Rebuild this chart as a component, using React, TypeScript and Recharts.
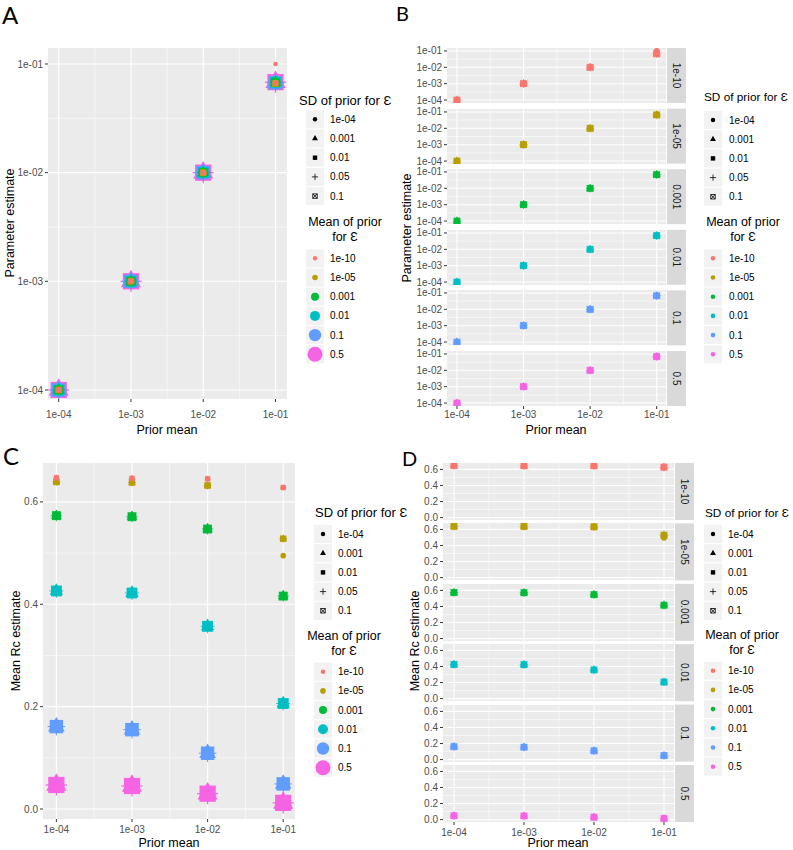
import React from 'react';
import { ScatterChart, Scatter, XAxis, YAxis, CartesianGrid, ReferenceLine } from 'recharts';

// ---- data ----
const priorMeans = [1e-4, 1e-3, 1e-2, 1e-1];
const sdLevels = ['1e-04', '0.001', '0.01', '0.05', '0.1'];
const sdShapes = ['circle', 'triangle', 'square', 'plus', 'boxcross'];
const meanLevels = ['1e-10', '1e-05', '0.001', '0.01', '0.1', '0.5'];
const meanColors = ['#F8766D', '#B79F00', '#00BA38', '#00BFC4', '#619CFF', '#F564E3'];
const meanSizes = [2.2, 2.8, 4.0, 5.0, 6.2, 7.5];

// parameter estimate, rows = mean of prior, cols = prior mean
const paramEstimates = [
  [1e-4, 1e-3, 1e-2, 0.067],
  [1e-4, 1e-3, 1e-2, 0.066],
  [1e-4, 1e-3, 1e-2, 0.068],
  [1e-4, 1e-3, 1e-2, 0.068],
  [1e-4, 1e-3, 1e-2, 0.067],
  [1e-4, 1e-3, 1e-2, 0.068],
];
// [mean idx, sd idx, prior idx, value]
const paramOutliers = [[0, 0, 3, 0.1]];

// mean Rc estimate, rows = mean of prior, cols = prior mean
const rcEstimates = [
  [0.647, 0.646, 0.645, 0.628],
  [0.639, 0.638, 0.632, 0.528],
  [0.573, 0.571, 0.547, 0.416],
  [0.426, 0.422, 0.357, 0.206],
  [0.161, 0.155, 0.109, 0.049],
  [0.047, 0.045, 0.03, 0.012],
];
const rcOutliers = [[1, 0, 3, 0.495]];

const logTicks = [1e-4, 1e-3, 1e-2, 1e-1];
const logMinor = [10 ** -3.5, 10 ** -2.5, 10 ** -1.5];
const rcTicks = [0, 0.2, 0.4, 0.6];
const rcMinor = [0.1, 0.3, 0.5];

const font = '"Liberation Sans", Arial, sans-serif';

const fmtSci = (v: number) => {
  const e = Math.round(Math.log10(v));
  return `1e${e < 0 ? '-' : '+'}${String(Math.abs(e)).padStart(2, '0')}`;
};
const fmtRc = (v: number) => v.toFixed(1);

type Pt = { x: number; y: number; sd: number };

function buildPoints(est: number[][], outliers: number[][], m: number): Pt[] {
  const pts: Pt[] = [];
  priorMeans.forEach((x, p) => {
    sdLevels.forEach((_, s) => {
      const o = outliers.find(r => r[0] === m && r[1] === s && r[2] === p);
      pts.push({ x, y: o ? o[3] : est[m][p], sd: s });
    });
  });
  return pts;
}

function Glyph({ cx, cy, shape, r, color }: { cx: number; cy: number; shape: string; r: number; color: string }) {
  if (cx == null || cy == null) return null;
  const sw = Math.max(0.8, r * 0.16);
  switch (shape) {
    case 'circle':
      return <circle cx={cx} cy={cy} r={r} fill={color} />;
    case 'triangle': {
      const t = r * 1.555;
      const bx = r * 1.347;
      const by = r * 0.778;
      return <polygon points={`${cx},${cy - t} ${cx + bx},${cy + by} ${cx - bx},${cy + by}`} fill={color} />;
    }
    case 'square':
      return <rect x={cx - r} y={cy - r} width={2 * r} height={2 * r} fill={color} />;
    case 'plus': {
      const a = r * 1.414;
      return (
        <g stroke={color} strokeWidth={sw}>
          <line x1={cx - a} y1={cy} x2={cx + a} y2={cy} />
          <line x1={cx} y1={cy - a} x2={cx} y2={cy + a} />
        </g>
      );
    }
    default:
      return (
        <g stroke={color} strokeWidth={sw} fill="none">
          <rect x={cx - r} y={cy - r} width={2 * r} height={2 * r} />
          <line x1={cx - r} y1={cy - r} x2={cx + r} y2={cy + r} />
          <line x1={cx - r} y1={cy + r} x2={cx + r} y2={cy - r} />
        </g>
      );
  }
}

type Rect = { x: number; y: number; w: number; h: number };

function Panel(props: {
  plot: Rect;
  xDomain: number[];
  yDomain: number[];
  yLog: boolean;
  yTicks: number[];
  yMinor: number[];
  yFmt: (v: number) => string;
  showX: boolean;
  xMargin?: number;
  levels: number[];
  est: number[][];
  outliers: number[][];
  fixedR?: number;
}) {
  const { plot, xDomain, yDomain, yLog, yTicks, yMinor, yFmt, showX, levels, est, outliers, fixedR } = props;
  const xMargin = props.xMargin ?? 4;
  const yAxisW = 44;
  const m = { top: 8, right: 4, bottom: 2, left: 0 };
  const xh = showX ? 3 + xMargin + 14 : 0;
  const width = plot.w + yAxisW + m.right;
  const height = plot.h + m.top + m.bottom + xh;
  return (
    <div style={{ position: 'absolute', left: plot.x - yAxisW, top: plot.y - m.top }}>
      <ScatterChart width={width} height={height} margin={m}>
        <CartesianGrid fill="#EBEBEB" horizontal={false} vertical={false} />
        {logMinor.map(v => <ReferenceLine key={'xm' + v} x={v} stroke="#FFFFFF" strokeWidth={0.55} />)}
        {yMinor.map(v => <ReferenceLine key={'ym' + v} y={v} stroke="#FFFFFF" strokeWidth={0.55} />)}
        {logTicks.map(v => <ReferenceLine key={'x' + v} x={v} stroke="#FFFFFF" strokeWidth={1.1} />)}
        {yTicks.map(v => <ReferenceLine key={'y' + v} y={v} stroke="#FFFFFF" strokeWidth={1.1} />)}
        <XAxis
          type="number"
          dataKey="x"
          scale="log"
          domain={xDomain}
          allowDataOverflow
          ticks={logTicks}
          interval={0}
          tickFormatter={fmtSci}
          hide={!showX}
          height={xh}
          tickSize={3}
          tickMargin={xMargin}
          axisLine={false}
          tickLine={{ stroke: '#333333' }}
          tick={{ fontSize: 10, fill: '#4D4D4D' }}
        />
        <YAxis
          type="number"
          dataKey="y"
          scale={yLog ? 'log' : 'linear'}
          domain={yDomain}
          allowDataOverflow
          ticks={yTicks}
          interval={0}
          tickFormatter={yFmt}
          width={yAxisW}
          tickSize={3}
          tickMargin={2}
          axisLine={false}
          tickLine={{ stroke: '#333333' }}
          tick={{ fontSize: 10, fill: '#4D4D4D' }}
        />
        {levels.map(mi => (
          <Scatter
            key={mi}
            data={buildPoints(est, outliers, mi)}
            isAnimationActive={false}
            shape={(p: any) => (
              <Glyph cx={p.cx} cy={p.cy} shape={sdShapes[p.payload.sd]} r={fixedR ?? meanSizes[mi]} color={meanColors[mi]} />
            )}
          />
        ))}
      </ScatterChart>
    </div>
  );
}

function Legends(props: {
  sdTitleX: number; sdTitleY: number; sdTitleSize: number; keyX: number; labelX: number; sdY0: number;
  meanTitleX: number; meanTitleY: number; meanY0: number; sized: boolean;
}) {
  const { sdTitleX, sdTitleY, sdTitleSize, keyX, labelX, sdY0, meanTitleX, meanTitleY, meanY0, sized } = props;
  const pitch = 19.2;
  return (
    <g>
      <text x={sdTitleX} y={sdTitleY} fontSize={sdTitleSize} dominantBaseline="central" fill="#000">SD of prior for Ɛ</text>
      {sdLevels.map((lab, i) => {
        const cy = sdY0 + i * pitch;
        return (
          <g key={lab}>
            <rect x={keyX - 9} y={cy - 9} width={18} height={18} fill="#F2F2F2" />
            <Glyph cx={keyX} cy={cy} shape={sdShapes[i]} r={2.2} color="#000000" />
            <text x={labelX} y={cy} fontSize={10} dominantBaseline="central" fill="#000">{lab}</text>
          </g>
        );
      })}
      <text x={meanTitleX} y={meanTitleY} fontSize={12.5} textAnchor="middle" dominantBaseline="central" fill="#000">Mean of prior</text>
      <text x={meanTitleX} y={meanTitleY + 15} fontSize={12.5} textAnchor="middle" dominantBaseline="central" fill="#000">for Ɛ</text>
      {meanLevels.map((lab, i) => {
        const cy = meanY0 + i * pitch;
        return (
          <g key={lab}>
            <rect x={keyX - 9} y={cy - 9} width={18} height={18} fill="#F2F2F2" />
            <circle cx={keyX} cy={cy} r={sized ? meanSizes[i] : 2.3} fill={meanColors[i]} />
            <text x={labelX} y={cy} fontSize={10} dominantBaseline="central" fill="#000">{lab}</text>
          </g>
        );
      })}
    </g>
  );
}

const allLevelsTopLast = [5, 4, 3, 2, 1, 0];

// facet geometry
const bFacetTop = (i: number) => 48 + i * 60.6;
const dFacetTop = (i: number) => 463 + i * 60.4;

export default function App() {
  return (
    <div style={{ position: 'absolute', left: 0, top: 0, width: 793, height: 850, background: '#fff', fontFamily: font, overflow: 'hidden' }}>
      {/* A */}
      <Panel
        plot={{ x: 48, y: 48, w: 239, h: 351 }}
        xDomain={[10 ** -4.148, 10 ** -0.841]}
        yDomain={[10 ** -4.083, 10 ** -0.853]}
        yLog
        yTicks={logTicks}
        yMinor={logMinor}
        yFmt={fmtSci}
        showX
        xMargin={9}
        levels={allLevelsTopLast}
        est={paramEstimates}
        outliers={paramOutliers}
      />
      {/* B */}
      {meanLevels.map((_, i) => (
        <Panel
          key={'b' + i}
          plot={{ x: 447, y: bFacetTop(i), w: 219, h: 55 }}
          xDomain={[10 ** -4.15, 10 ** -0.86]}
          yDomain={[10 ** -4.18, 10 ** -0.82]}
          yLog
          yTicks={logTicks}
          yMinor={logMinor}
          yFmt={fmtSci}
          showX={i === 5}
          xMargin={2}
          levels={[i]}
          est={paramEstimates}
          outliers={paramOutliers}
          fixedR={3}
        />
      ))}
      {/* C */}
      <Panel
        plot={{ x: 43, y: 463, w: 252, h: 356 }}
        xDomain={[10 ** -4.177, 10 ** -0.844]}
        yDomain={[-0.0195, 0.676]}
        yLog={false}
        yTicks={rcTicks}
        yMinor={rcMinor}
        yFmt={fmtRc}
        showX
        xMargin={4}
        levels={allLevelsTopLast}
        est={rcEstimates}
        outliers={rcOutliers}
      />
      {/* D */}
      {meanLevels.map((_, i) => (
        <Panel
          key={'d' + i}
          plot={{ x: 443, y: dFacetTop(i), w: 231, h: 57 }}
          xDomain={[10 ** -4.157, 10 ** -0.857]}
          yDomain={[-0.03, 0.68]}
          yLog={false}
          yTicks={rcTicks}
          yMinor={rcMinor}
          yFmt={fmtRc}
          showX={i === 5}
          xMargin={4}
          levels={[i]}
          est={rcEstimates}
          outliers={rcOutliers}
          fixedR={3}
        />
      ))}

      <svg width={793} height={850} style={{ position: 'absolute', left: 0, top: 0, pointerEvents: 'none' }}>
        {/* panel letters */}
        <g fontFamily='"Lato", "Open Sans", sans-serif' fill="#000">
          <text x={2} y={24} fontSize={24}>A</text>
          <text x={396} y={21} fontSize={20}>B</text>
          <text x={3} y={465} fontSize={24}>C</text>
          <text x={402} y={466} fontSize={20}>D</text>
        </g>

        {/* axis titles */}
        <g fontSize={12.5} fill="#000" textAnchor="middle" dominantBaseline="central">
          <text x={167} y={430}>Prior mean</text>
          <text x={556} y={430}>Prior mean</text>
          <text x={169} y={843}>Prior mean</text>
          <text x={558} y={843}>Prior mean</text>
          <text transform="translate(10,223) rotate(-90)">Parameter estimate</text>
          <text transform="translate(407,228) rotate(-90)">Parameter estimate</text>
          <text transform="translate(16,641) rotate(-90)">Mean Rc estimate</text>
          <text transform="translate(415,641) rotate(-90)">Mean Rc estimate</text>
        </g>

        {/* facet strips */}
        {meanLevels.map((lab, i) => (
          <g key={'sb' + i}>
            <rect x={667} y={bFacetTop(i)} width={19} height={55} fill="#D9D9D9" />
            <text transform={`translate(676.5,${bFacetTop(i) + 27.5}) rotate(90)`} fontSize={10} fill="#1A1A1A" textAnchor="middle" dominantBaseline="central">{lab}</text>
            <rect x={675} y={dFacetTop(i)} width={19} height={57} fill="#D9D9D9" />
            <text transform={`translate(684.5,${dFacetTop(i) + 28.5}) rotate(90)`} fontSize={10} fill="#1A1A1A" textAnchor="middle" dominantBaseline="central">{lab}</text>
          </g>
        ))}

        {/* legends */}
        <Legends sdTitleX={299} sdTitleY={100} sdTitleSize={13} keyX={315} labelX={330} sdY0={119.3}
          meanTitleX={345} meanTitleY={222} meanY0={258.3} sized />
        <Legends sdTitleX={704} sdTitleY={97} sdTitleSize={11.8} keyX={713} labelX={729} sdY0={120}
          meanTitleX={743} meanTitleY={222} meanY0={258.3} sized={false} />
        <Legends sdTitleX={315} sdTitleY={512} sdTitleSize={13} keyX={323} labelX={338} sdY0={534}
          meanTitleX={344} meanTitleY={636} meanY0={671.7} sized />
        <Legends sdTitleX={705} sdTitleY={513} sdTitleSize={11.8} keyX={713} labelX={728} sdY0={534}
          meanTitleX={742} meanTitleY={635} meanY0={670.7} sized={false} />
      </svg>
    </div>
  );
}
